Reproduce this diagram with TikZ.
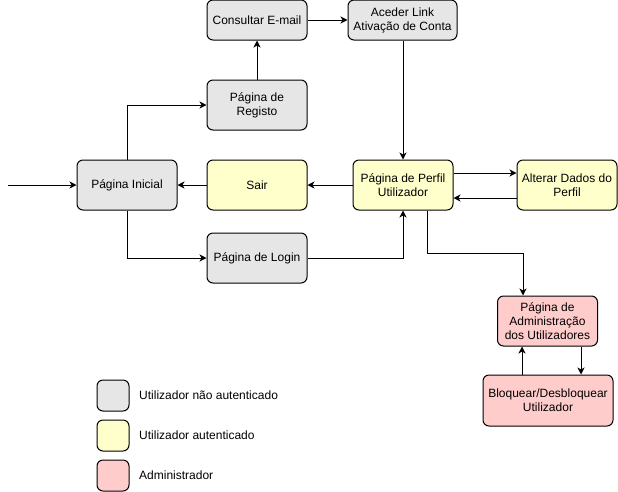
\documentclass[tikz,border=0pt]{standalone}
\usepackage{fontspec}
\setmainfont{Liberation Sans}
\usetikzlibrary{arrows.meta,calc}
\definecolor{gfill}{HTML}{E6E6E6}
\definecolor{yfill}{HTML}{FFFFCC}
\definecolor{rfill}{HTML}{FFCCCC}
\tikzset{
  box/.style={draw=black, line width=1pt, rounded corners=6pt, align=center, inner sep=0pt,
    minimum width=100pt, minimum height=50pt, font=\fontsize{12}{14}\selectfont},
  grey/.style={box, fill=gfill},
  yel/.style={box, fill=yfill},
  red/.style={box, fill=rfill},
  legbox/.style={draw=black, line width=1pt, rounded corners=6pt, minimum width=32pt, minimum height=31pt, inner sep=0pt},
  legtext/.style={anchor=west, inner sep=0pt, font=\fontsize{12}{14}\selectfont},
  arr/.style={draw=black, line width=1pt, -{Stealth[length=7pt,width=7pt,inset=2pt]}}
}
\begin{document}
\begin{tikzpicture}[x=1pt,y=-1pt]
\useasboundingbox (0,0) rectangle (618,491);
\node[grey] (ini) at (127,185) {Página Inicial};
\node[grey] (reg) at (257,105) {Página de\\Registo};
\node[grey, minimum height=40pt] (cons) at (257,20) {Consultar E-mail};
\node[grey, minimum height=40pt, minimum width=109pt] (acc) at (402.5,20) {Aceder Link\\Ativação de Conta};
\node[yel] (sair) at (257,185) {Sair};
\node[grey] (login) at (257,258) {Página de Login};
\node[yel] (perf) at (403,185) {Página de Perfil\\Utilizador};
\node[yel] (alt) at (567,185) {Alterar Dados do\\Perfil};
\node[red] (adm) at (547.5,321) {Página de\\Administração\\dos Utilizadores};
\node[red, minimum width=130pt, minimum height=51pt] (blo) at (548,400.5) {Bloquear/Desbloquear\\Utilizador};

\node[legbox, fill=gfill] (l1) at (113,395.5) {};
\node[legbox, fill=yfill] (l2) at (113,435.5) {};
\node[legbox, fill=rfill] (l3) at (113,475.5) {};
\node[legtext] (t1) at (139,395.5) {Utilizador não autenticado};
\node[legtext] (t2) at (139,435.5) {Utilizador autenticado};
\node[legtext] (t3) at (139,475.5) {Administrador};

\coordinate (in) at (8,185);
\coordinate (pa) at (427,253);
\draw[arr] (in) -- (ini.west);
\draw[arr] (ini.north) |- (reg.west);
\draw[arr] (reg.north) -- (cons.south);
\draw[arr] (cons.east) -- (acc.west);
\draw[arr] (acc.south -| perf.north) -- (perf.north);
\draw[arr] (perf.west) -- (sair.east);
\draw[arr] (sair.west) -- (ini.east);
\draw[arr] (ini.south) |- (login.west);
\draw[arr] (login.east) -| (perf.south);
\draw[arr] ([yshift=12pt]perf.east) -- ([yshift=12pt]alt.west);
\draw[arr] ([yshift=-13pt]alt.west) -- ([yshift=-13pt]perf.east);
\draw[arr] ([xshift=24pt]perf.south) -- (pa) -| ([xshift=-24.5pt]adm.north);
\draw[arr] ([xshift=-25.5pt]adm.south |- blo.north) -- ([xshift=-25.5pt]adm.south);
\draw[arr] ([xshift=33.5pt]adm.south) -- ([xshift=33.5pt]adm.south |- blo.north);
\end{tikzpicture}
\end{document}
